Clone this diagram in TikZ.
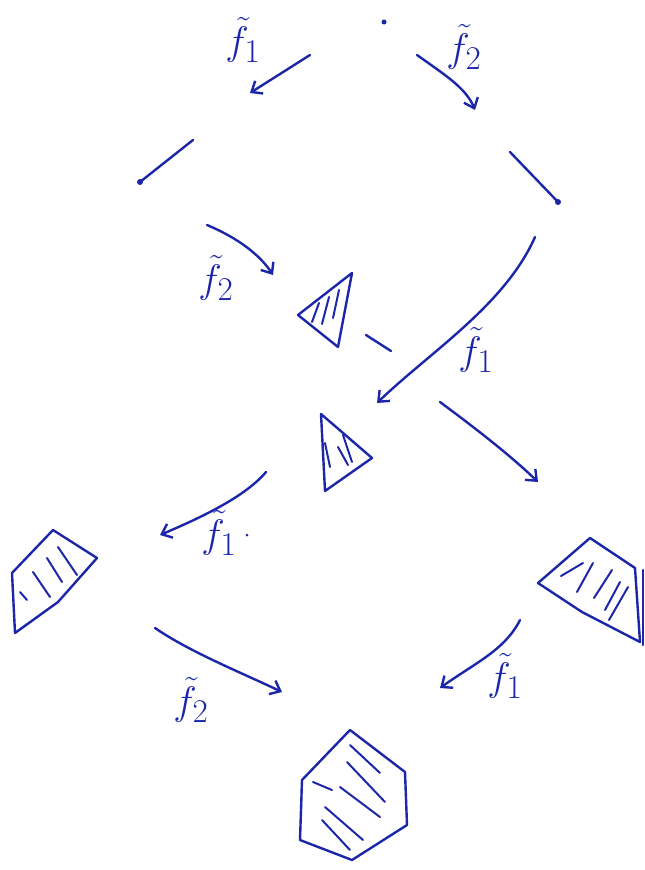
\documentclass[tikz,border=0pt]{standalone}
\usetikzlibrary{arrows.meta}
\definecolor{ink}{RGB}{28,38,168}
\newcommand{\flip}[1]{\scalebox{1.6}{$\tilde f_{#1}$}}

\begin{document}
\begin{tikzpicture}[
      x=1pt, y=-1pt,
      >={Straight Barb[length=9pt, width=15pt]},
      pen/.style={draw=ink, line width=2.4pt, line cap=round, line join=round},
      move/.style={pen, ->},
      hatch/.style={draw=ink, line width=2pt, line cap=round},
      lbl/.style={text=ink, font=\Huge, inner sep=0pt},
      vtx/.style={circle, fill=ink, inner sep=0pt, minimum size=6pt}
    ]
    \useasboundingbox (0,0) rectangle (645,870);

    \node[vtx, minimum size=5pt] (top) at (384,22) {};

    \coordinate (m1s) at (310,55);  \coordinate (m1e) at (250,93);
    \coordinate (m2s) at (417,55);  \coordinate (m2e) at (475,110);
    \coordinate (m3s) at (207,225); \coordinate (m3e) at (273,275);
    \coordinate (m4s) at (535,237); \coordinate (m4e) at (377,403);
    \coordinate (m5s) at (440,402); \coordinate (m5e) at (538,482);
    \coordinate (m6s) at (266,472); \coordinate (m6e) at (160,535);
    \coordinate (m7s) at (155,628); \coordinate (m7e) at (282,692);
    \coordinate (m8s) at (520,620); \coordinate (m8e) at (440,688);

    \node[lbl] (l1) at (243,40) {\flip{1}};
    \node[lbl] (l2) at (464,47) {\flip{2}};
    \node[lbl] (l3) at (216,278) {\flip{2}};
    \node[lbl] (l4) at (476,350) {\flip{1}};
    \node[lbl] (l5) at (219,533) {\flip{1}};
    \node[vtx, minimum size=3pt] (dot) at (247,535) {};
    \node[lbl] (l6) at (191,700) {\flip{2}};
    \node[lbl] (l7) at (505,676) {\flip{1}};

    \draw[move] (m1s) -- (m1e);
    \draw[move] (m2s) .. controls (445,75) and (466,88) .. (m2e);
    \draw[move] (m3s) .. controls (238,238) and (260,255) .. (m3e);
    \draw[move] (m4s) .. controls (505,305) and (430,352) .. (m4e);
    \draw[move] (m5s) .. controls (475,428) and (510,455) .. (m5e);
    \draw[move] (m6s) .. controls (245,497) and (200,518) .. (m6e);
    \draw[move] (m7s) .. controls (190,652) and (240,672) .. (m7e);
    \draw[move] (m8s) .. controls (505,650) and (475,663) .. (m8e);

    % edges
    \draw[pen] (140,182) -- (193,140);
    \node[vtx] (e1) at (140,182) {};
    \draw[pen] (510,152) -- (558,202);
    \node[vtx] (e2) at (558,202) {};
    \draw[pen] (366,335) -- (391,351);

    % triangles
    \draw[pen] (352,273) -- (298,315) -- (338,347) -- cycle;
    \foreach \a/\b/\c/\d in {319/303/312/322, 329/297/322/324, 339/290/333/318}
      \draw[hatch] (\a,\b) -- (\c,\d);
    \draw[pen] (321,414) -- (372,458) -- (325,491) -- cycle;
    \foreach \a/\b/\c/\d in {325/443/330/467, 338/447/348/465, 343/435/352/462}
      \draw[hatch] (\a,\b) -- (\c,\d);

    % quadrilaterals
    \draw[pen] (12,573) -- (53,530) -- (97,558) -- (58,602) -- (15,633) -- cycle;
    \foreach \a/\b/\c/\d in {58/547/77/575, 47/558/62/582, 33/572/50/597, 20/592/27/600}
      \draw[hatch] (\a,\b) -- (\c,\d);
    \draw[pen] (538,583) -- (590,538) -- (635,568) -- (640,642) -- (582,612) -- cycle;
    \draw[pen] (643,570) -- (643,645);
    \foreach \a/\b/\c/\d in {583/563/561/576, 593/563/577/592, 612/570/594/598, 620/582/605/610, 628/587/609/620}
      \draw[hatch] (\a,\b) -- (\c,\d);

    % hexagon
    \draw[pen] (350,730) -- (405,772) -- (407,825) -- (352,860) -- (300,840) -- (302,780) -- cycle;
    \foreach \a/\b/\c/\d in {350/745/380/773, 347/762/385/802, 313/782/332/790, 340/787/380/817, 325/807/363/840, 322/820/350/850}
      \draw[hatch] (\a,\b) -- (\c,\d);

  \end{tikzpicture}
\end{document}
